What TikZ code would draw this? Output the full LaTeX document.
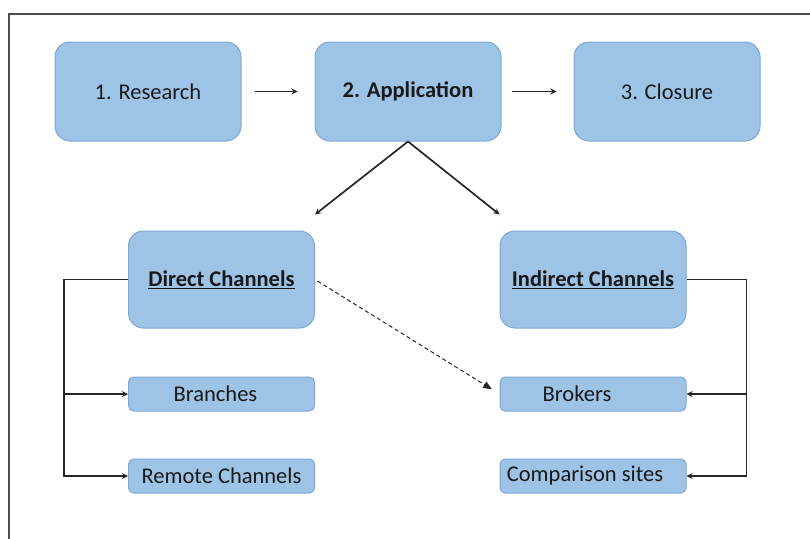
\documentclass[tikz,border=0pt]{standalone}
\usepackage{fontspec}
\setmainfont{Carlito}
\usepackage{xcolor}
\usetikzlibrary{shapes.geometric, arrows, positioning}

\definecolor{boxfill}{HTML}{9DC3E6}
\definecolor{boxline}{HTML}{7FA8D4}

\begin{document}
\begin{tikzpicture}[x=1pt, y=-1pt]
\tikzstyle{stage} = [rectangle, rounded corners=15pt, draw=boxline, line width=1pt, fill=boxfill, minimum width=186pt, minimum height=99pt, font=\fontsize{22.5}{27}\selectfont, text=black!90]
\tikzstyle{channel} = [stage, minimum height=97pt]
\tikzstyle{item} = [rectangle, rounded corners=5pt, draw=boxline, line width=1pt, fill=boxfill, minimum width=186pt, minimum height=34pt, inner sep=1pt, font=\fontsize{22.5}{27}\selectfont, text=black!90]
\tikzstyle{arrow} = [line width=1.7pt, ->, >=stealth, black!85]
\tikzstyle{dasharrow} = [line width=1pt, ->, >=triangle 45, dash pattern=on 4pt off 3pt, black!85]

\useasboundingbox (0,0) rectangle (810,538);
\draw[line width=1.3pt, black!70] (9,14) rectangle (830,560);

% steps of the process
\node (research) [stage] at (148,91.5) {1. Research};
\node (application) [stage, right=73pt of research] {\textbf{2. Application}};
\node (closure) [stage, right=72pt of application] {3. Closure};

% the two kinds of channel
\node (direct) [channel] at (221.5,279.5) {\underline{\textbf{Direct Channels}}};
\node (indirect) [channel] at (593,279.5) {\underline{\textbf{Indirect Channels}}};

\node (branches) [item, below=48pt of direct] {Branches\hspace*{12pt}};
\node (remote) [item, below=47pt of branches] {Remote Channels};
\node (brokers) [item, below=48pt of indirect] {Brokers\hspace*{32pt}};
\node (compare) [item, below=47pt of brokers] {Comparison sites\hspace*{16pt}};

\draw [arrow, shorten <=13pt, shorten >=17pt] (research) -- (application);
\draw [arrow, shorten <=10pt, shorten >=17pt] (application) -- (closure);

\coordinate [above=16pt of direct.north east] (dtip);
\coordinate [above=16pt of indirect.north west] (itip);
\draw [arrow] (application.south) -- (dtip);
\draw [arrow] (application.south) -- (itip);

\draw [dasharrow, shorten <=3pt, shorten >=9pt] (direct.east) -- (brokers.west);

% rails on both sides
\coordinate [left=64pt of direct.west] (lrail);
\coordinate [right=60pt of indirect.east] (rrail);
\draw [arrow] (direct.west) -- (lrail) |- (remote.west);
\draw [arrow] (lrail |- branches.west) -- (branches.west);
\draw [arrow] (indirect.east) -- (rrail) |- (compare.east);
\draw [arrow] (rrail |- brokers.east) -- (brokers.east);

\end{tikzpicture}
\end{document}
